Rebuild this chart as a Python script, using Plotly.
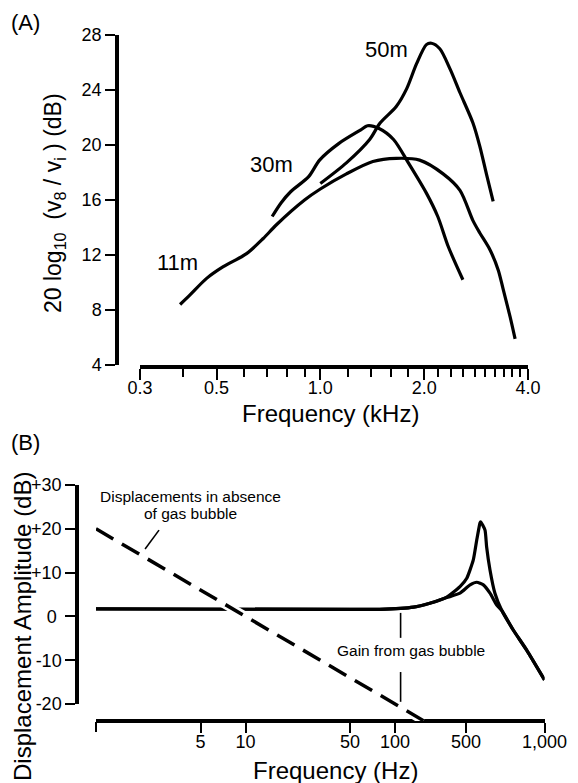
import numpy as np
import plotly.graph_objects as go

W, H = 578, 783
FONT = "Liberation Sans, Arial, sans-serif"

# ---------------- Panel A data ----------------
a_11m_khz = [0.392, 0.419, 0.468, 0.523, 0.611, 0.683, 0.746, 0.90, 1.0, 1.19, 1.42, 1.66, 1.94, 2.27, 2.54,
             2.77, 2.90, 3.10, 3.28, 3.39, 3.55, 3.67]
a_11m_db = [8.4, 9.1, 10.3, 11.15, 12.1, 13.2, 14.2, 16.0, 16.8, 17.9, 18.8, 19.03, 18.9, 17.9, 16.7,
            14.5, 13.6, 12.4, 10.9, 9.5, 7.5, 5.9]
a_30m_khz = [0.725, 0.77, 0.82, 0.925, 0.995, 1.13, 1.31, 1.37, 1.48, 1.63, 1.80, 2.03, 2.19, 2.35, 2.59]
a_30m_db = [14.8, 15.8, 16.6, 17.7, 18.9, 20.1, 21.1, 21.4, 21.2, 20.4, 18.7, 16.5, 14.8, 12.6, 10.2]
a_50m_khz = [1.00, 1.19, 1.39, 1.49, 1.66, 1.78, 1.90, 2.03, 2.10, 2.22, 2.38, 2.54, 2.77, 2.90, 3.03, 3.17]
a_50m_db = [17.2, 18.7, 20.4, 21.6, 22.8, 24.1, 25.9, 27.3, 27.4, 27.0, 25.5, 23.8, 21.6, 19.9, 17.9, 15.9]

a_curve_labels = ["11m", "30m", "50m"]
a_label_khz = [0.385, 0.722, 1.555]
a_label_db = [11.45, 18.55, 26.98]

a_xticks = [0.3, 0.5, 1.0, 2.0, 4.0]
a_xtick_text = ["0.3", "0.5", "1.0", "2.0", "4.0"]
a_xminor = [0.4, 0.6, 0.7, 0.8, 0.9, 1.2, 1.4, 1.6, 1.8, 2.2, 2.4, 2.6, 2.8,
            3.0, 3.2, 3.4, 3.6, 3.8]
a_yticks = [4, 8, 12, 16, 20, 24, 28]

# ---------------- Panel B data ----------------
b_dash_hz = [1, 155]
b_dash_db = [20, -23.8]
b_sharp_hz = [1, 50, 79, 133, 171, 222, 272, 302, 334, 352, 370, 374, 400, 410, 432, 466, 517, 618, 760, 1000]
b_sharp_db = [1.7, 1.6, 1.6, 2.1, 3.0, 4.4, 6.8, 8.7, 12.9, 17.4, 21.3, 21.6, 19.7, 15.9, 10.6, 5.3, 1.4,
              -3.1, -7.7, -14.5]
b_broad_hz = [1, 50, 79, 133, 171, 222, 272, 318, 352, 390, 432, 479, 517, 618, 760, 1000]
b_broad_db = [1.7, 1.6, 1.6, 2.1, 3.0, 4.3, 5.3, 7.2, 7.8, 7.2, 5.3, 2.6, 1.4, -3.1, -7.7, -14.5]

b_ptr1_hz = [2.64, 2.13]
b_ptr1_db = [19.7, 15.4]
b_ptr2_hz = [109, 109]
b_ptr2_top_db = [0.8, -4.9]
b_ptr2_bot_db = [-12.7, -19.5]

# tick positions as drawn in the original schematic (its "500" tick sits left of true 500)
b_xticks = [5, 10, 50, 100, 298, 1000]
b_xtick_text = ["5", "10", "50", "100", "500", "1,000"]
b_xminor = [1]
b_yticks = [-20, -10, 0, 10, 20, 30]
b_ytick_text = ["-20", "-10", "0\u00a0", "+10", "+20", "+30"]


def px(x):
    return x / W


def py(y):
    return 1 - y / H


fig = go.Figure()
line_kw = dict(color="black", width=3.2)

for xs, ys in [(a_11m_khz, a_11m_db), (a_30m_khz, a_30m_db), (a_50m_khz, a_50m_db)]:
    fig.add_trace(go.Scatter(x=xs, y=ys, mode="lines", line=dict(shape="spline", smoothing=0.8, **line_kw),
                             xaxis="x", yaxis="y", showlegend=False, hoverinfo="skip"))

# empty traces so that the tick-only overlay axes and the visible B y-axis are drawn
for xa, ya in [("x3", "y"), ("x2", "y2"), ("x4", "y3")]:
    fig.add_trace(go.Scatter(x=[], y=[], xaxis=xa, yaxis=ya, showlegend=False, hoverinfo="skip"))

for xs, ys in [(b_broad_hz, b_broad_db), (b_sharp_hz, b_sharp_db)]:
    fig.add_trace(go.Scatter(x=xs, y=ys, mode="lines", line=dict(shape="spline", smoothing=0.5, **line_kw),
                             xaxis="x2", yaxis="y3", showlegend=False, hoverinfo="skip"))
fig.add_trace(go.Scatter(x=b_dash_hz, y=b_dash_db, mode="lines", line=dict(color="white", width=9),
                         xaxis="x2", yaxis="y3", showlegend=False, hoverinfo="skip"))
fig.add_trace(go.Scatter(x=b_dash_hz, y=b_dash_db, mode="lines",
                         line=dict(color="black", width=3.5, dash="20px,10px"),
                         xaxis="x2", yaxis="y3", showlegend=False, hoverinfo="skip"))
for xs, ys in [(b_ptr1_hz, b_ptr1_db), (b_ptr2_hz, b_ptr2_top_db), (b_ptr2_hz, b_ptr2_bot_db)]:
    fig.add_trace(go.Scatter(x=xs, y=ys, mode="lines", line=dict(color="black", width=1.6),
                             xaxis="x2", yaxis="y3", showlegend=False, hoverinfo="skip"))

tickfont = dict(family=FONT, size=18, color="black")
axis_common = dict(showline=True, linecolor="black", linewidth=3.5, ticks="outside", tickcolor="black",
                   tickwidth=2, showgrid=False, zeroline=False, automargin=False,
                   tickfont=tickfont, tickmode="array")
minor_common = dict(showline=False, ticks="outside", tickcolor="black", tickwidth=2, showgrid=False,
                    zeroline=False, automargin=False, showticklabels=False, tickmode="array")

A_XRANGE = [np.log10(0.3), np.log10(4.0)]
B_XRANGE = [0, 3]

fig.update_layout(
    template="none",
    width=W, height=H, margin=dict(l=0, r=0, t=0, b=0, pad=0), paper_bgcolor="white",
    plot_bgcolor="rgba(0,0,0,0)", font=dict(family=FONT, color="black"), showlegend=False,
    xaxis=dict(type="log", range=A_XRANGE, domain=[px(140), px(528)], anchor="y",
               tickvals=a_xticks, ticktext=a_xtick_text, ticklen=11, ticklabelstandoff=-7,
               **axis_common),
    xaxis3=dict(type="log", range=A_XRANGE, overlaying="x", anchor="y", tickvals=a_xminor, ticklen=11,
                **minor_common),
    yaxis=dict(range=[4, 28], domain=[py(365), py(35)], anchor="free", position=px(117),
               tickvals=a_yticks, ticktext=[str(v) for v in a_yticks], ticklen=10, **axis_common),
    xaxis2=dict(type="log", range=B_XRANGE, domain=[px(96), px(544.5)], anchor="free", position=py(721),
                tickvals=b_xticks, ticktext=b_xtick_text, ticklen=10, ticklabelstandoff=-6,
                **axis_common),
    xaxis4=dict(type="log", range=B_XRANGE, overlaying="x2", anchor="free", position=py(721),
                tickvals=b_xminor, ticklen=10, **minor_common),
    yaxis2=dict(range=[-20, 30], domain=[py(704), py(485)], anchor="free", position=px(77),
                tickvals=b_yticks, ticktext=b_ytick_text, ticklen=10, **axis_common),
    yaxis3=dict(range=[-20 - 17 / 4.38, 30 + 15 / 4.38], domain=[py(721), py(470)], anchor="x2",
                visible=False, showgrid=False, zeroline=False, automargin=False),
)

ann = []
for lab, xk, yd in zip(a_curve_labels, a_label_khz, a_label_db):
    ann.append(dict(x=np.log10(xk), y=yd, xref="x", yref="y", text=lab, showarrow=False,
                    font=dict(size=22, family=FONT, color="black"), xanchor="center", yanchor="middle"))


def ptext(text, x, y, size, xanchor="center", angle=0):
    ann.append(dict(x=px(x), y=py(y), xref="paper", yref="paper", text=text, showarrow=False, textangle=angle,
                    font=dict(size=size, family=FONT, color="black"), xanchor=xanchor, yanchor="middle"))


ptext("(A)", 9, 22, 22, xanchor="left")
ptext("(B)", 9, 442, 22, xanchor="left")
ptext("20 log<sub>10</sub>\u00a0 (v<sub>8</sub> / v<sub>i</sub> ) (dB)", 54, 203, 23, angle=-90)
ptext("Frequency (kHz)", 330, 413, 24)
ptext("Displacement Amplitude (dB)", 22, 627, 24, angle=-90)
ptext("Frequency (Hz)", 335, 770, 24)
ptext("Displacements in absence", 190, 496, 15.5)
ptext("of gas bubble", 190, 513, 15.5)
ptext("Gain from gas bubble", 411, 650, 15.5)

fig.update_layout(annotations=ann)

fig.write_html("out.html", config={"displayModeBar": False},
               post_script="document.body.style.margin='0';")
